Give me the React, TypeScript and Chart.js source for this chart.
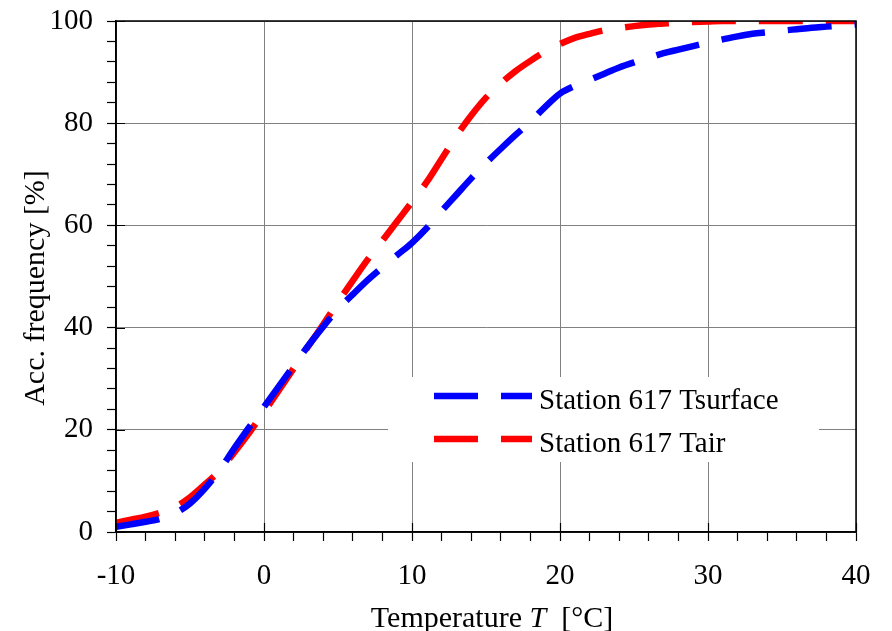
import React, { useEffect, useRef } from 'react';
import { Chart, registerables } from 'chart.js';

Chart.register(...registerables);

// ---- data ----
const temperatures = [
  -10, -9, -8, -7, -6, -5, -4, -3, -2, -1, 0, 1, 2, 3, 4, 5, 6, 7, 8, 9, 10,
  11, 12, 13, 14, 15, 16, 17, 18, 19, 20, 21, 22, 23, 24, 25, 26, 27, 28, 29, 30,
  31, 32, 33, 34, 35, 36, 37, 38, 39, 40,
];
const tsurface = [
  1.0, 1.5, 2.0, 2.6, 3.7, 5.6, 8.5, 12.1, 16.4, 20.5, 24.5,
  28.5, 32.5, 36.5, 40.2, 43.6, 46.5, 49.3, 51.8, 54.2, 56.6,
  59.5, 62.8, 66.0, 69.2, 72.2, 75.0, 77.7, 80.3, 83.2, 85.8,
  87.3, 88.5, 89.7, 90.9, 91.9, 92.8, 93.7, 94.4, 95.1, 95.8,
  96.4, 97.0, 97.5, 97.8, 98.1, 98.4, 98.7, 98.9, 99.1, 99.3,
];
const tair = [
  1.8, 2.4, 3.0, 3.8, 4.9, 6.8, 9.3, 12.0, 15.6, 19.4, 23.5,
  27.7, 32.0, 36.4, 40.6, 45.0, 49.2, 53.3, 57.0, 60.8, 64.6,
  68.5, 73.0, 77.5, 81.5, 85.0, 87.8, 90.2, 92.2, 94.0, 95.5,
  96.7, 97.5, 98.2, 98.6, 99.0, 99.3, 99.5, 99.7, 99.8, 99.9,
  100, 100, 100, 100, 100, 100, 100, 100, 100, 100,
];
const seriesLabels = ['Station 617 Tsurface', 'Station 617 Tair'];
const seriesColors = ['#0000ff', '#ff0000'];
const xRange = [-10, 40];
const yRange = [0, 100];
const xMajorStep = 10;
const xMinorStep = 2;
const yMajorStep = 20;
const yMinorStep = 4;
const xTitleParts = ['Temperature ', 'T', '  [°C]'];
const yTitle = 'Acc. frequency [%]';

const FONT = '"Liberation Serif", "Times New Roman", serif';
const DASH = [44, 23];
const LINE_W = 6.5;

const decorPlugin = {
  id: 'decor',
  beforeDatasetsDraw(chart: any) {
    const { ctx, chartArea: a } = chart;
    ctx.save();
    ctx.fillStyle = '#ffffff';
    ctx.fillRect(a.left + 272, a.top + 356, 431, 85);
    ctx.restore();
  },
  afterDatasetsDraw(chart: any) {
    const { ctx, chartArea: a } = chart;
    ctx.save();
    seriesLabels.forEach((label, i) => {
      const cy = a.top + 375 + i * 43;
      ctx.strokeStyle = seriesColors[i];
      ctx.lineWidth = LINE_W;
      ctx.lineCap = 'butt';
      ctx.setLineDash(DASH);
      ctx.beginPath();
      ctx.moveTo(a.left + 318, cy);
      ctx.lineTo(a.left + 416, cy);
      ctx.stroke();
      ctx.setLineDash([]);
      ctx.fillStyle = '#000';
      ctx.font = `29px ${FONT}`;
      ctx.textAlign = 'left';
      ctx.textBaseline = 'alphabetic';
      ctx.fillText(label, a.left + 423, cy + 13);
    });
    ctx.restore();
  },
  afterDraw(chart: any) {
    const { ctx, chartArea: a, scales } = chart;
    ctx.save();
    ctx.strokeStyle = '#000';
    ctx.lineWidth = 1.5;
    ctx.strokeRect(a.left, a.top, a.right - a.left, a.bottom - a.top);
    ctx.lineWidth = 1.2;
    ctx.beginPath();
    for (let v = xRange[0]; v <= xRange[1]; v += xMajorStep) {
      const px = Math.round(scales.x.getPixelForValue(v)) + 0.5;
      ctx.moveTo(px, a.bottom);
      ctx.lineTo(px, a.bottom - 9);
    }
    for (let v = yRange[0]; v <= yRange[1]; v += yMajorStep) {
      const py = Math.round(scales.y.getPixelForValue(v)) + 0.5;
      ctx.moveTo(a.left, py);
      ctx.lineTo(a.left + 9, py);
    }
    ctx.stroke();
    ctx.fillStyle = '#000';
    ctx.textBaseline = 'alphabetic';
    ctx.textAlign = 'left';
    const fonts = [`30px ${FONT}`, `italic 30px ${FONT}`, `30px ${FONT}`];
    let total = 0;
    const widths = xTitleParts.map((p, i) => {
      ctx.font = fonts[i];
      const w = ctx.measureText(p).width;
      total += w;
      return w;
    });
    let x = 492 - total / 2;
    xTitleParts.forEach((p, i) => {
      ctx.font = fonts[i];
      ctx.fillText(p, x, 627);
      x += widths[i];
    });
    ctx.translate(44, 288);
    ctx.rotate(-Math.PI / 2);
    ctx.textAlign = 'center';
    ctx.font = `30px ${FONT}`;
    ctx.fillText(yTitle, 0, 0);
    ctx.restore();
  },
};

export default function App() {
  const ref = useRef<HTMLCanvasElement>(null);
  useEffect(() => {
    if (!ref.current) return;
    const gridColor = (step: number) => (c: any) =>
      c.tick && Math.abs(c.tick.value % step) < 1e-9 ? '#808080' : 'rgba(0,0,0,0)';
    const mkDs = (i: number, vals: number[]) => ({
      label: seriesLabels[i],
      data: temperatures.map((t, k) => ({ x: t, y: vals[k] })),
      borderColor: seriesColors[i],
      borderWidth: LINE_W,
      borderDash: DASH,
      borderCapStyle: 'butt',
      pointRadius: 0,
      cubicInterpolationMode: 'monotone',
      fill: false,
      clip: 0,
    });
    const chart = new Chart(ref.current, {
      type: 'line',
      data: { datasets: [mkDs(0, tsurface), mkDs(1, tair)] },
      options: {
        animation: false,
        responsive: true,
        maintainAspectRatio: false,
        layout: { padding: { left: 0, right: 36, top: 21, bottom: 0 } },
        plugins: { legend: { display: false }, tooltip: { enabled: false } },
        scales: {
          x: {
            type: 'linear',
            min: xRange[0],
            max: xRange[1],
            afterFit: (s: any) => {
              s.height = 99;
              s.paddingLeft = 0;
              s.paddingRight = 0;
            },
            ticks: {
              stepSize: xMinorStep,
              autoSkip: false,
              maxRotation: 0,
              padding: 18,
              color: '#000',
              font: { family: FONT, size: 29 },
              callback: (v: any) => (Math.abs(v % xMajorStep) < 1e-9 ? String(v) : ''),
            },
            grid: {
              color: gridColor(xMajorStep),
              lineWidth: 1,
              drawTicks: true,
              tickLength: 9,
              tickColor: '#000',
              tickWidth: 1.2,
            },
            border: { display: true, color: '#000', width: 1.5 },
          },
          y: {
            type: 'linear',
            min: yRange[0],
            max: yRange[1],
            afterFit: (s: any) => {
              s.width = 116;
              s.paddingTop = 0;
              s.paddingBottom = 0;
            },
            ticks: {
              stepSize: yMinorStep,
              autoSkip: false,
              padding: 14,
              color: '#000',
              font: { family: FONT, size: 29 },
              callback: (v: any) => (Math.abs(v % yMajorStep) < 1e-9 ? String(v) : ''),
            },
            grid: {
              color: gridColor(yMajorStep),
              lineWidth: 1,
              drawTicks: true,
              tickLength: 9,
              tickColor: '#000',
              tickWidth: 1.2,
            },
            border: { display: true, color: '#000', width: 1.5 },
          },
        },
      },
      plugins: [decorPlugin],
    } as any);
    return () => chart.destroy();
  }, []);
  return (
    <div style={{ position: 'fixed', left: 0, top: 0, width: 892, height: 631, background: '#fff' }}>
      <canvas ref={ref} />
    </div>
  );
}
